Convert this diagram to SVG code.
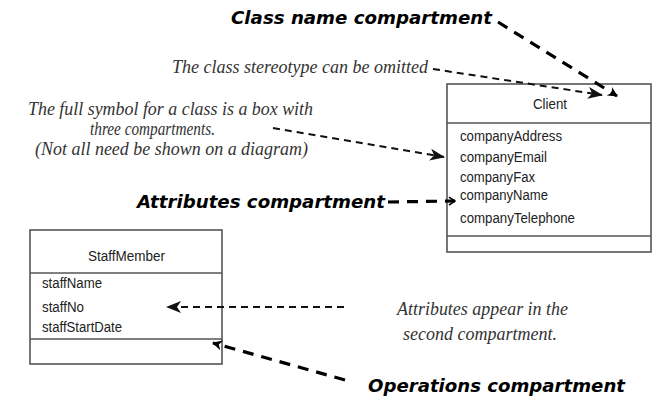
<svg xmlns="http://www.w3.org/2000/svg" width="652" height="401" viewBox="0 0 652 401">
  <defs>
    <!-- barbed filled arrowhead -->
    <marker id="barb" viewBox="0 0 15 12" refX="14" refY="6" markerWidth="15" markerHeight="12" markerUnits="userSpaceOnUse" orient="auto">
      <path d="M0,0 L15,6 L0,12 L4,6 Z" fill="#111"/>
    </marker>
    <!-- small filled arrowhead for heavy leaders -->
    <marker id="tip" viewBox="0 0 10 10" refX="9" refY="5" markerWidth="10" markerHeight="10" markerUnits="userSpaceOnUse" orient="auto">
      <path d="M0,0 L10,5 L0,10 L3,5 Z" fill="#000"/>
    </marker>
    <!-- open chevron -->
    <marker id="chev" viewBox="0 0 8 10" refX="7" refY="5" markerWidth="8" markerHeight="10" markerUnits="userSpaceOnUse" orient="auto">
      <path d="M1,1 L7,5 L1,9" fill="none" stroke="#000" stroke-width="1.6"/>
    </marker>
  </defs>
  <style>
    .box { fill: #fff; stroke: #555; stroke-width: 1.6; }
    .div { stroke: #555; stroke-width: 1.6; }
    .cls { font-family: "Liberation Sans", Arial, sans-serif; font-size: 14px; fill: #222; }
    .note { font-family: "Liberation Serif", "Times New Roman", serif; font-style: italic; font-size: 19px; fill: #333; }
    .tag { font-family: "DejaVu Sans", Verdana, sans-serif; font-weight: bold; font-style: italic; font-size: 18px; fill: #000; }
    .thin { fill: none; stroke: #111; stroke-width: 2; stroke-dasharray: 7 5; }
    .heavy { fill: none; stroke: #000; stroke-width: 3.2; stroke-dasharray: 11 8; }
  </style>
  <rect width="652" height="401" fill="#fff"/>

  <!-- Client class -->
  <g id="client">
    <rect class="box" x="447" y="84" width="204" height="168"/>
    <line class="div" x1="447" y1="123" x2="651" y2="123"/>
    <line class="div" x1="447" y1="236" x2="651" y2="236"/>
    <text class="cls" x="533" y="109" textLength="34" lengthAdjust="spacingAndGlyphs">Client</text>
    <text class="cls" x="460" y="141" textLength="102" lengthAdjust="spacingAndGlyphs">companyAddress</text>
    <text class="cls" x="460" y="162" textLength="87" lengthAdjust="spacingAndGlyphs">companyEmail</text>
    <text class="cls" x="460" y="182" textLength="75" lengthAdjust="spacingAndGlyphs">companyFax</text>
    <text class="cls" x="460" y="200" textLength="88" lengthAdjust="spacingAndGlyphs">companyName</text>
    <text class="cls" x="460" y="223" textLength="115" lengthAdjust="spacingAndGlyphs">companyTelephone</text>
  </g>

  <!-- StaffMember class -->
  <g id="staffmember">
    <rect class="box" x="30" y="230" width="192" height="134"/>
    <line class="div" x1="30" y1="273" x2="222" y2="273"/>
    <line class="div" x1="30" y1="339" x2="222" y2="339"/>
    <text class="cls" x="88" y="261" textLength="77" lengthAdjust="spacingAndGlyphs">StaffMember</text>
    <text class="cls" x="42" y="288" textLength="60" lengthAdjust="spacingAndGlyphs">staffName</text>
    <text class="cls" x="42" y="312" textLength="42" lengthAdjust="spacingAndGlyphs">staffNo</text>
    <text class="cls" x="42" y="332" textLength="80" lengthAdjust="spacingAndGlyphs">staffStartDate</text>
  </g>

  <!-- explanatory notes -->
  <g id="notes">
    <text class="note" x="172" y="73" textLength="256" lengthAdjust="spacingAndGlyphs">The class stereotype can be omitted</text>
    <text class="note" x="28" y="115" textLength="285" lengthAdjust="spacingAndGlyphs">The full symbol for a class is a box with</text>
    <text class="note" x="90" y="135" textLength="125" lengthAdjust="spacingAndGlyphs">three compartments.</text>
    <text class="note" x="35" y="155" textLength="273" lengthAdjust="spacingAndGlyphs">(Not all need be shown on a diagram)</text>
    <text class="note" x="397" y="315" textLength="171" lengthAdjust="spacingAndGlyphs">Attributes appear in the</text>
    <text class="note" x="403" y="340" textLength="154" lengthAdjust="spacingAndGlyphs">second compartment.</text>
  </g>

  <!-- compartment labels -->
  <g id="labels">
    <text class="tag" x="231" y="24" textLength="261" lengthAdjust="spacingAndGlyphs">Class name compartment</text>
    <text class="tag" x="137" y="208" textLength="248" lengthAdjust="spacingAndGlyphs">Attributes compartment</text>
    <text class="tag" x="368" y="392" textLength="257" lengthAdjust="spacingAndGlyphs">Operations compartment</text>
  </g>

  <!-- connectors -->
  <g id="connectors">
    <line class="heavy" x1="498" y1="22" x2="617" y2="96" marker-end="url(#tip)"/>
    <line class="thin" x1="433" y1="69" x2="602" y2="95" marker-end="url(#barb)"/>
    <line class="thin" x1="273" y1="128" x2="444" y2="157" marker-end="url(#barb)"/>
    <line class="heavy" x1="388" y1="202" x2="455" y2="201" marker-end="url(#chev)"/>
    <line class="thin" x1="344" y1="307" x2="167" y2="307" marker-end="url(#barb)"/>
    <line class="heavy" x1="345" y1="380" x2="213" y2="343" marker-end="url(#tip)"/>
  </g>
</svg>
